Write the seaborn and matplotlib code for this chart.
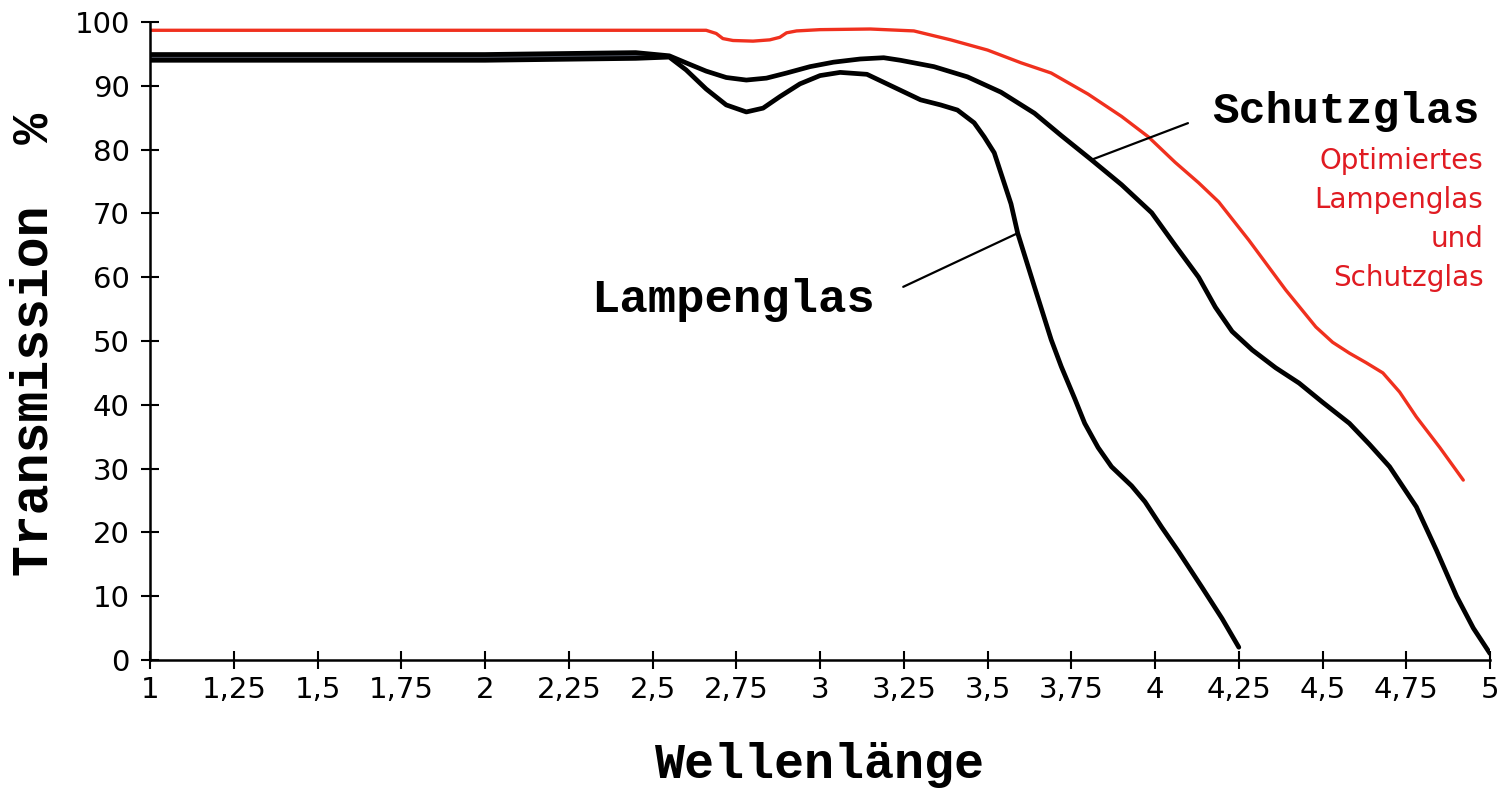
import matplotlib
matplotlib.use("Agg")
import matplotlib.pyplot as plt
import seaborn as sns

# transmission curves (wavelength -> %)
opt_x = [1.0, 2.66, 2.69, 2.71, 2.74, 2.80, 2.85, 2.88, 2.90, 2.93, 3.00, 3.15, 3.28,
         3.39, 3.50, 3.60, 3.69, 3.80, 3.90, 3.98, 4.06, 4.13, 4.19, 4.28, 4.39, 4.48,
         4.53, 4.58, 4.63, 4.68, 4.73, 4.78, 4.85, 4.92]
opt_y = [98.7, 98.7, 98.2, 97.4, 97.1, 97.0, 97.2, 97.6, 98.3, 98.6, 98.8, 98.9, 98.6,
         97.2, 95.6, 93.6, 92.0, 88.7, 85.2, 82.0, 78.0, 74.8, 71.8, 65.8, 58.0, 52.2,
         49.8, 48.1, 46.6, 45.0, 42.0, 38.1, 33.3, 28.2]

schutz_x = [1.0, 2.0, 2.45, 2.55, 2.60, 2.66, 2.72, 2.78, 2.84, 2.90, 2.97, 3.04, 3.12,
            3.19, 3.24, 3.34, 3.44, 3.54, 3.64, 3.72, 3.81, 3.90, 3.99, 4.06, 4.13,
            4.18, 4.23, 4.29, 4.36, 4.43, 4.50, 4.58, 4.64, 4.70, 4.78, 4.84, 4.90,
            4.95, 5.0]
schutz_y = [94.9, 94.9, 95.2, 94.7, 93.6, 92.3, 91.3, 90.9, 91.2, 92.0, 93.0, 93.7, 94.2,
            94.4, 94.0, 93.0, 91.4, 89.0, 85.7, 82.2, 78.4, 74.5, 70.1, 65.0, 60.0,
            55.3, 51.5, 48.6, 45.8, 43.4, 40.4, 37.1, 33.8, 30.3, 24.0, 17.2, 10.0,
            5.0, 1.0]

lampe_x = [1.0, 2.0, 2.45, 2.55, 2.60, 2.66, 2.72, 2.78, 2.83, 2.88, 2.94, 3.00, 3.06,
           3.14, 3.24, 3.30, 3.36, 3.41, 3.46, 3.49, 3.52, 3.54, 3.57, 3.59, 3.64,
           3.69, 3.72, 3.76, 3.79, 3.83, 3.87, 3.93, 3.97, 4.02, 4.07, 4.14, 4.20, 4.25]
lampe_y = [94.0, 94.0, 94.3, 94.5, 92.5, 89.5, 87.0, 85.9, 86.5, 88.3, 90.3, 91.6, 92.1,
           91.8, 89.3, 87.8, 87.0, 86.2, 84.2, 82.0, 79.5, 76.3, 71.5, 66.9, 58.5,
           50.2, 46.0, 41.0, 37.1, 33.3, 30.3, 27.3, 24.8, 20.8, 17.0, 11.4, 6.5, 2.0]

x_ticks = [1, 1.25, 1.5, 1.75, 2, 2.25, 2.5, 2.75, 3, 3.25, 3.5, 3.75, 4, 4.25, 4.5, 4.75, 5]
x_tick_labels = ["1", "1,25", "1,5", "1,75", "2", "2,25", "2,5", "2,75", "3", "3,25",
                 "3,5", "3,75", "4", "4,25", "4,5", "4,75", "5"]
y_ticks = [0, 10, 20, 30, 40, 50, 60, 70, 80, 90, 100]

sns.set_style("white")
plt.rcParams["font.family"] = ["DejaVu Sans"]

mono = "Liberation Mono"
red_line = "#f0301e"
red_text = "#e01b22"

fig = plt.figure(figsize=(15.03, 7.91), dpi=100)
ax = fig.add_axes([0.0998, 0.1656, 0.8916, 0.8066])
ax.set_axisbelow(False)

# grey band where both black curves run together
n = 4
ax.fill_between(lampe_x[:n], lampe_y[:n], schutz_y[:n], color="#4b505d", lw=0)

sns.lineplot(x=schutz_x, y=schutz_y, color="black", lw=3.4, ax=ax, estimator=None)
sns.lineplot(x=lampe_x, y=lampe_y, color="black", lw=3.4, ax=ax, estimator=None)
sns.lineplot(x=opt_x, y=opt_y, color=red_line, lw=2.4, ax=ax, estimator=None)

ax.set_xlim(1, 5)
ax.set_ylim(0, 100)
ax.set_xticks(x_ticks)
ax.set_xticklabels(x_tick_labels)
ax.set_yticks(y_ticks)
ax.tick_params(axis="both", direction="inout", length=13, width=1.5, color="black",
               labelsize=21, labelcolor="black", bottom=True, left=True)
ax.tick_params(axis="x", pad=5)
ax.tick_params(axis="y", pad=8)

for s in ["top", "right"]:
    ax.spines[s].set_visible(False)
for s in ["left", "bottom"]:
    ax.spines[s].set_color("black")
    ax.spines[s].set_linewidth(1.8)

ax.set_xlabel("Wellenlänge", fontsize=36, family=mono, fontweight="bold", color="black")
ax.xaxis.label.set_verticalalignment("center")
ax.xaxis.set_label_coords(0.5, -0.1646)
ax.set_ylabel("Transmission  %", fontsize=37, family=mono, fontweight="bold", color="black")
ax.yaxis.label.set_verticalalignment("center")
ax.yaxis.set_label_coords(-0.0865, 0.495)

ax.annotate("Schutzglas", xy=(3.81, 78.4), xytext=(4.17, 85.9), color="black",
            fontsize=32, family=mono, fontweight="bold", ha="left", va="center",
            arrowprops=dict(arrowstyle="-", color="black", lw=1.6, relpos=(0, 0.45),
                            shrinkA=16, shrinkB=0))
ax.annotate("Lampenglas", xy=(3.59, 66.9), xytext=(2.74, 56.4), color="black",
            fontsize=34, family=mono, fontweight="bold", ha="center", va="center",
            arrowprops=dict(arrowstyle="-", color="black", lw=1.6, relpos=(1, 0.5),
                            shrinkA=20, shrinkB=0))

ax.text(4.98, 69.1, "Optimiertes\nLampenglas\nund\nSchutzglas", color=red_text,
        fontsize=20, ha="right", va="center", multialignment="right", linespacing=1.5)

fig.savefig("out.png", dpi=100)
